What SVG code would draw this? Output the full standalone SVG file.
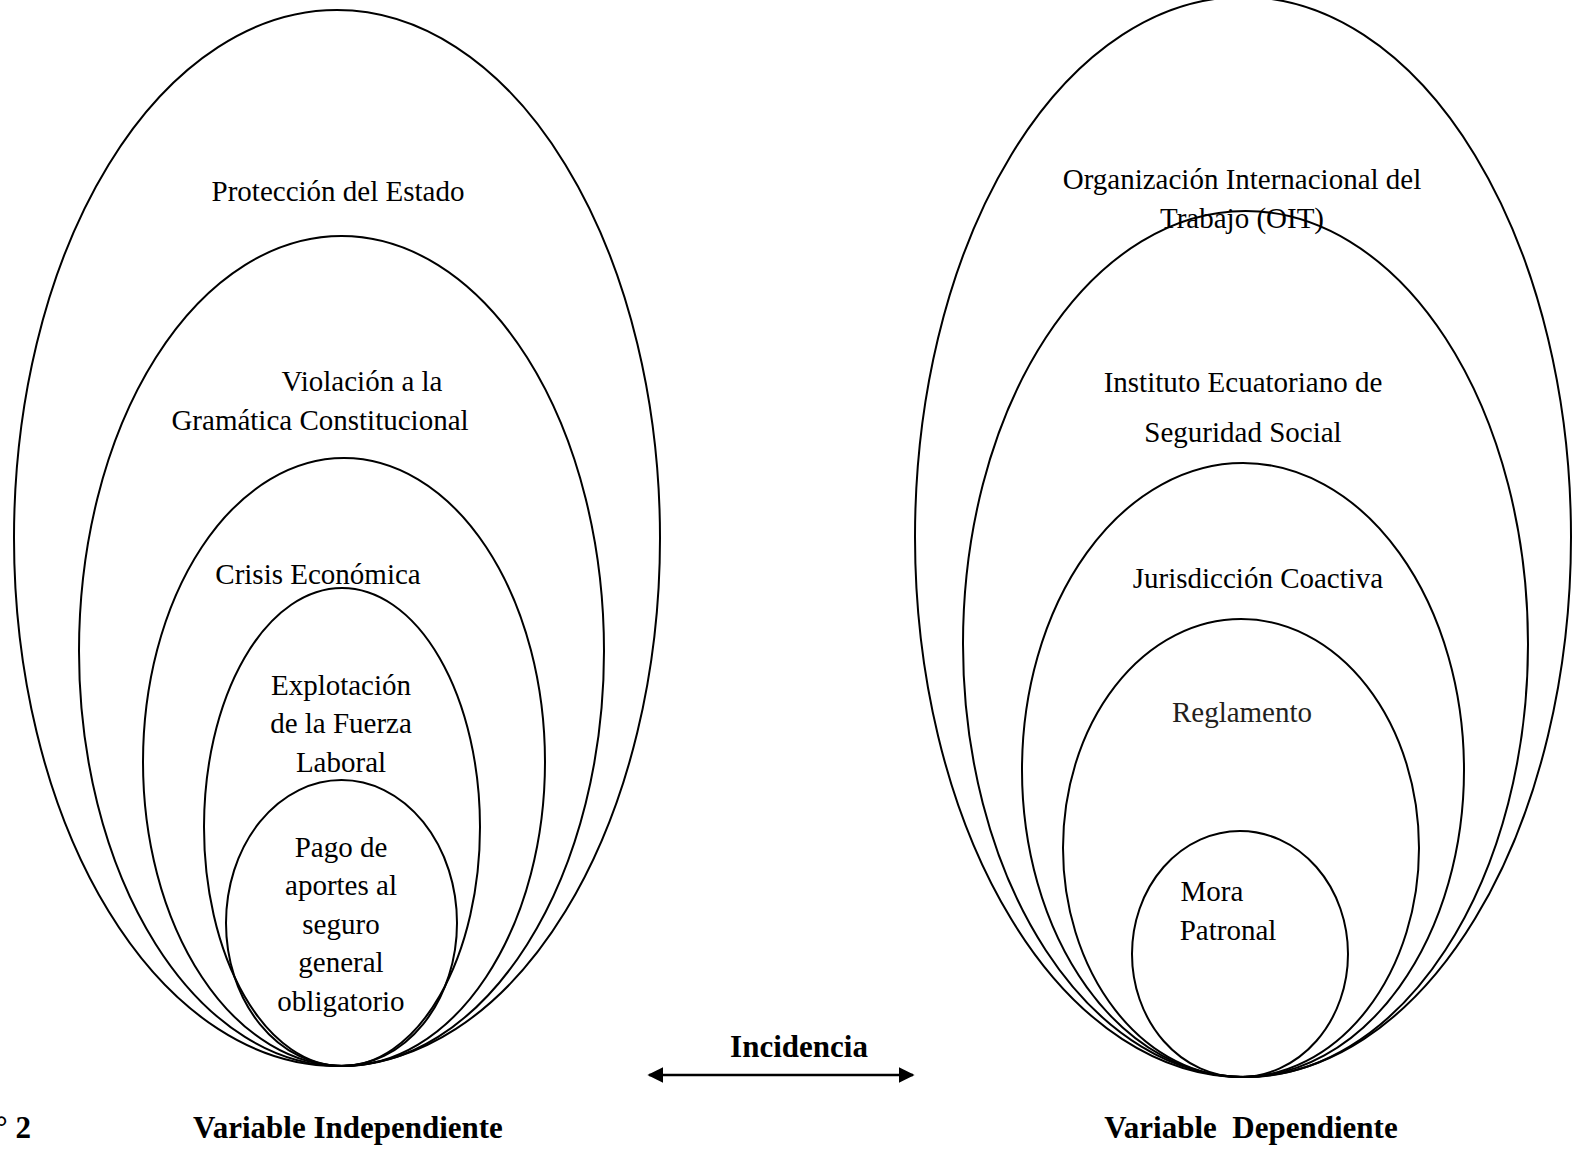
<svg xmlns="http://www.w3.org/2000/svg" width="1573" height="1149" viewBox="0 0 1573 1149">
<style>
.e{fill:none;stroke:#000;stroke-width:2}
.t{font-family:"Liberation Serif","Times New Roman",serif;font-size:29px;fill:#000;text-anchor:middle}
.b{font-weight:bold;font-size:31px}
.g{fill:#231f20}
</style>
<defs>
<marker id="ah" viewBox="0 0 10 10" refX="9" refY="5" markerWidth="16" markerHeight="16" markerUnits="userSpaceOnUse" orient="auto-start-reverse">
<path d="M0,0 L10,5 L0,10 z" fill="#000"/>
</marker>
</defs>
<rect width="1573" height="1149" fill="#fff"/>
<g id="left-1"><ellipse class="e" cx="337" cy="538" rx="323" ry="528"/><text class="t" x="338" y="201">Protección del Estado</text></g>
<g id="left-2"><ellipse class="e" cx="341.5" cy="651" rx="262.5" ry="415"/><text class="t" x="362" y="391">Violación a la</text><text class="t" x="320" y="430">Gramática Constitucional</text></g>
<g id="left-3"><ellipse class="e" cx="344" cy="762" rx="201" ry="304"/><text class="t" x="318" y="584">Crisis Económica</text></g>
<g id="left-4"><ellipse class="e" cx="342" cy="827" rx="138" ry="239"/><text class="t" x="341" y="695">Explotación</text><text class="t" x="341" y="733">de la Fuerza</text><text class="t" x="341" y="772">Laboral</text></g>
<g id="left-5"><ellipse class="e" cx="341.5" cy="923" rx="115.5" ry="143"/><text class="t" x="341" y="857">Pago de</text><text class="t" x="341" y="895">aportes al</text><text class="t" x="341" y="934">seguro</text><text class="t" x="341" y="972">general</text><text class="t" x="341" y="1011">obligatorio</text></g>
<g id="right-1"><ellipse class="e" cx="1243" cy="537" rx="328" ry="540"/><text class="t" x="1242" y="189">Organización Internacional del</text><text class="t" x="1242" y="228">Trabajo (OIT)</text></g>
<g id="right-2"><ellipse class="e" cx="1245.5" cy="644" rx="282.5" ry="433"/><text class="t" x="1243" y="392">Instituto Ecuatoriano de</text><text class="t" x="1243" y="442">Seguridad Social</text></g>
<g id="right-3"><ellipse class="e" cx="1243" cy="770" rx="221" ry="307"/><text class="t" x="1258" y="588">Jurisdicción Coactiva</text></g>
<g id="right-4"><ellipse class="e" cx="1241" cy="848" rx="178" ry="229"/><text class="t g" x="1242" y="722">Reglamento</text></g>
<g id="right-5"><ellipse class="e" cx="1240" cy="954" rx="108" ry="123"/><text class="t" x="1212" y="901">Mora</text><text class="t" x="1228" y="940">Patronal</text></g>
<g id="connectors"><line x1="649" y1="1075" x2="913" y2="1075" stroke="#000" stroke-width="2.5" marker-start="url(#ah)" marker-end="url(#ah)"/></g>
<g id="labels">
<text class="t b" x="799" y="1057">Incidencia</text>
<text class="t b" x="31" y="1138" style="text-anchor:end">° 2</text>
<text class="t b" x="348" y="1138">Variable Independiente</text>
<text class="t b" x="1251" y="1138" xml:space="preserve">Variable  Dependiente</text>
</g>
</svg>
